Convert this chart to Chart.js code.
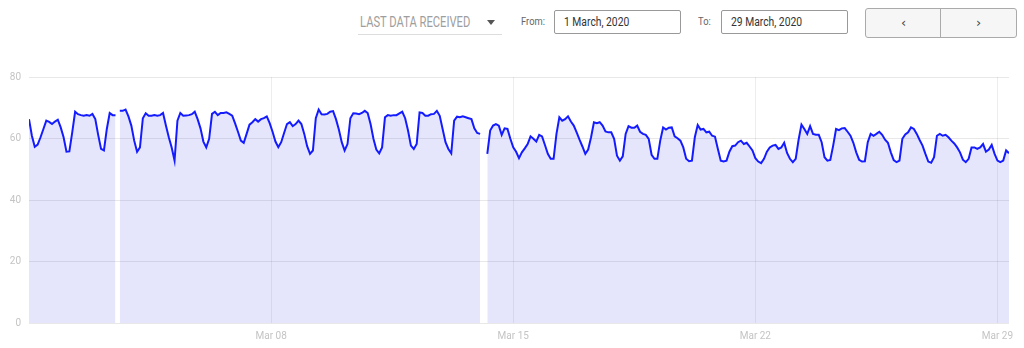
<!DOCTYPE html>
<html>
<head>
<meta charset="utf-8">
<script src="https://cdn.jsdelivr.net/npm/chart.js@4.4.0/dist/chart.umd.min.js"></script>
<style>
  html, body { margin: 0; padding: 0; background: #fff; }
  body { width: 1024px; height: 348px; position: relative; overflow: hidden; font-family: Roboto, sans-serif; }
  .cond { display: inline-block; transform-origin: 0 50%; white-space: nowrap; }
  .select { position: absolute; left: 358px; top: 12px; width: 144px; height: 22px; border-bottom: 1px solid #ddd; color: #9e9e9e; font-size: 14px; line-height: 20px; }
  .select .cond { margin-left: 2px; transform: scaleX(0.8); }
  .select .arrow { position: absolute; left: 129px; top: 8px; width: 0; height: 0; border-left: 4px solid transparent; border-right: 4px solid transparent; border-top: 5px solid #555; }
  .lbl { position: absolute; top: 15px; font-size: 11px; color: #666; }
  .lbl .cond { transform: scaleX(0.85); }
  .box { position: absolute; top: 10px; height: 24px; border: 1px solid #999; border-radius: 2px; font-size: 12px; color: #333; line-height: 22px; box-sizing: border-box; padding-left: 9px; }
  .box .cond { transform: scaleX(0.86); }
  .nav { position: absolute; left: 865px; top: 8px; width: 152px; height: 30px; border: 1px solid #aaa; border-radius: 3px; background: #f6f6f6; box-sizing: border-box; }
  .nav .half { position: absolute; top: 0; width: 75px; height: 28px; line-height: 27px; text-align: center; color: #444; font-family: "DejaVu Sans", sans-serif; font-size: 13px; }
  .nav .div { position: absolute; left: 74px; top: 0; width: 1px; height: 28px; background: #aaa; }
  #wrap { position: absolute; left: 0; top: 60px; width: 1024px; height: 288px; }
</style>
</head>
<body>
<div class="select"><span class="cond">LAST DATA RECEIVED</span><div class="arrow"></div></div>
<div class="lbl" style="left:521px"><span class="cond">From:</span></div>
<div class="box" style="left:554px;width:127px"><span class="cond">1 March, 2020</span></div>
<div class="lbl" style="left:698px"><span class="cond">To:</span></div>
<div class="box" style="left:721px;width:127px"><span class="cond">29 March, 2020</span></div>
<div class="nav"><div class="half" style="left:0">&lsaquo;</div><div class="div"></div><div class="half" style="left:75px">&rsaquo;</div></div>
<div id="wrap"><canvas id="myChart"></canvas></div>
<script>
//Hours since 1 March 2020 00:00, readings every 2 hours
const stepHours = 2;
const seg1Start = 0;
const seg1Values = [66.3, 60.9, 57.3, 58.0, 60.4, 63.1, 65.8, 65.4, 64.7, 65.5, 66.1, 63.6, 60.4, 55.7, 55.8, 62.0,
  68.7, 67.9, 67.6, 67.4, 67.6, 67.4, 68.0, 66.3, 61.2, 56.6, 56.1, 63.1, 68.3, 67.6, 67.6];
const seg2Start = 63;
const seg2Values = [69.0, 69.0, 69.4, 67.2, 64.2, 59.3, 55.7, 57.1, 66.6, 68.2, 67.4, 67.4, 67.6, 67.4, 67.6, 68.3,
  64.2, 60.4, 57.1, 52.8, 65.8, 68.3, 67.4, 67.5, 67.6, 67.9, 68.7, 66.3, 63.3, 59.0, 57.1, 59.9, 68.0, 68.7, 67.6,
  68.3, 68.3, 68.5, 68.0, 67.4, 64.9, 62.2, 59.3, 58.6, 61.5, 64.5, 65.3, 66.3, 65.5, 66.3, 66.6, 67.2, 65.0, 62.2,
  59.0, 57.2, 58.8, 61.8, 64.7, 65.3, 64.0, 64.7, 65.8, 64.7, 61.5, 57.5, 55.0, 56.1, 66.6, 69.4, 67.9, 67.8, 68.0,
  68.7, 68.9, 66.3, 62.9, 58.8, 56.1, 58.2, 66.6, 68.2, 68.1, 67.9, 68.3, 69.0, 68.3, 64.7, 59.9, 56.4, 55.2, 57.1,
  66.9, 67.6, 67.4, 67.6, 67.6, 68.2, 68.7, 66.6, 62.6, 57.7, 56.6, 58.2,
  68.5, 68.3, 67.4, 67.4, 67.9, 68.0, 69.0, 67.4, 63.1, 58.8, 56.6, 55.2, 65.8, 67.1, 66.9, 67.2, 66.9, 66.6, 66.3,
  63.3, 61.8, 61.5];
const seg3Start = 318;
const seg3Values = [55.0, 62.6, 64.2, 64.7, 64.2, 61.2, 63.3, 63.1, 59.9, 57.1, 55.7, 53.6, 55.5, 56.8, 58.2, 60.7,
  59.9, 59.0, 61.2, 60.7, 57.9, 55.0, 53.4, 53.4, 61.5, 66.9, 65.8, 66.3, 67.2, 65.5, 64.2, 62.0, 59.6, 57.4, 55.0,
  56.4, 60.4, 65.3, 65.0, 65.3, 64.2, 62.3, 62.0, 62.0, 59.9, 54.4,
  52.8, 54.2, 61.5, 64.0, 63.5, 63.5, 64.2, 62.2, 61.5, 61.2, 59.9, 54.7, 53.4, 53.4, 59.3, 63.6, 62.9, 63.5, 63.6,
  60.7, 60.1, 59.3, 57.1, 53.4, 52.6, 52.8, 60.4, 64.4, 62.9, 63.1, 62.0, 62.2, 60.9, 60.6, 56.6, 52.8, 52.5, 52.8,
  55.7, 57.5, 57.7, 58.8, 59.3, 58.2, 58.6, 57.4, 56.1, 53.6, 52.5, 52.0, 53.4, 55.7, 57.1, 57.7, 57.9, 56.6, 57.1,
  58.6, 55.3, 53.4, 52.3, 53.4, 59.6, 64.5, 63.1, 61.5, 64.0, 61.5, 61.2, 61.2,
  58.8, 53.9, 52.8, 53.0, 57.7, 63.1, 62.7, 63.3, 63.4, 62.2, 60.9, 58.6, 55.5, 53.1, 52.5, 52.6, 58.8, 61.5, 60.9,
  61.5, 62.2, 61.2, 59.6, 58.6, 55.5, 53.0, 52.3, 52.8, 59.9, 61.3, 62.0, 63.6, 63.1, 61.5, 59.5, 57.7, 55.0, 52.5,
  52.1, 53.9, 60.9, 61.5, 60.9, 61.2, 60.4, 59.3, 58.4, 57.1, 55.5, 53.1, 52.3, 53.4, 57.1, 57.1, 56.6, 57.1, 58.2,
  55.7, 56.4, 57.9, 55.0, 52.8, 52.3, 52.8, 56.1, 55.2];
const xTickHours = [168, 336, 504, 672];
const xTickLabels = ["Mar 08", "Mar 15", "Mar 22", "Mar 29"];
const yTicks = [0, 20, 40, 60, 80];

//Build the point list, with a null between segments so the line and fill break
const points = [];
const addSegment = function(start, values) {
  if(points.length) {
    points.push({x: (points[points.length - 1].x + start) / 2, y: null});
  }
  values.forEach((v, i) => points.push({x: start + i * stepHours, y: v}));
};
addSegment(seg1Start, seg1Values);
addSegment(seg2Start, seg2Values);
addSegment(seg3Start, seg3Values);

const tickFont = {family: "Roboto, sans-serif", size: 10};
const ctx = document.getElementById("myChart");
new Chart(ctx, {
  type: "line",
  data: {
    datasets: [{
      data: points,
      borderColor: "rgb(20,28,255)",
      borderWidth: 2,
      backgroundColor: "rgba(40,50,230,0.12)",
      fill: "origin",
      pointRadius: 0,
      tension: 0
    }]
  },
  options: {
    responsive: true,
    maintainAspectRatio: false,
    animation: false,
    layout: {padding: {top: 17, right: 15, left: 0, bottom: 0}},
    plugins: {legend: {display: false}, tooltip: {enabled: false}},
    scales: {
      x: {
        type: "linear",
        min: 0,
        max: points[points.length - 1].x,
        afterBuildTicks: function(scale) {
          scale.ticks = xTickHours.map(v => ({value: v}));
        },
        afterFit: function(scale) { scale.height = 25; },
        ticks: {
          autoSkip: false, maxRotation: 0, padding: 7, color: "#c4c4c4", font: tickFont,
          callback: function(value) { return xTickLabels[xTickHours.indexOf(value)]; }
        },
        grid: {color: "rgba(0,0,0,0.07)", drawTicks: false},
        border: {display: false}
      },
      y: {
        min: 0,
        max: 80,
        afterBuildTicks: function(scale) {
          scale.ticks = yTicks.map(v => ({value: v}));
        },
        afterFit: function(scale) { scale.width = 29; },
        ticks: {padding: 8, color: "#c4c4c4", font: tickFont},
        grid: {color: "rgba(0,0,0,0.09)", drawTicks: false},
        border: {display: false}
      }
    }
  }
});
</script>
</body>
</html>
